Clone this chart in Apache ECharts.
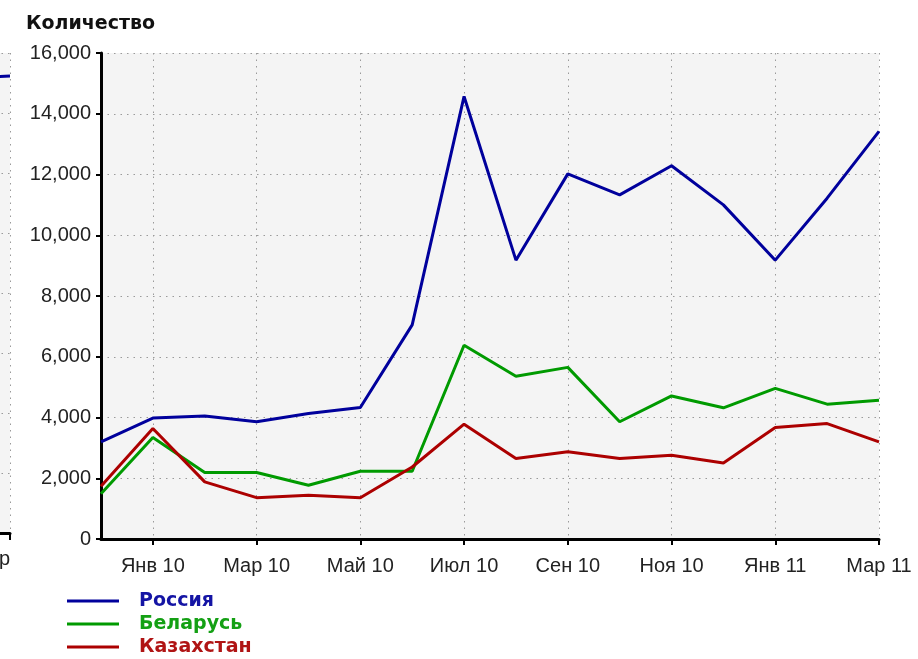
<!DOCTYPE html>
<html>
<head>
<meta charset="utf-8">
<script src="https://cdn.jsdelivr.net/npm/echarts@6/dist/echarts.min.js"></script>
<style>
  html, body { margin: 0; padding: 0; background: #fff; }
  #chart { width: 918px; height: 659px; }
</style>
</head>
<body>
<div id="chart"></div>
<script>
window.addEventListener("load", () => {
    // месяцы: Дек 09 .. Мар 11
    const months = ["Дек 09", "Янв 10", "Фев 10", "Мар 10", "Апр 10", "Май 10", "Июн 10", "Июл 10",
        "Авг 10", "Сен 10", "Окт 10", "Ноя 10", "Дек 10", "Янв 11", "Фев 11", "Мар 11"];
    const russia = [3200, 3980, 4050, 3860, 4130, 4330, 7050, 14570, 9180, 12020, 11330, 12290, 11000, 9180, 11220, 13420];
    const belarus = [1490, 3340, 2190, 2190, 1770, 2230, 2230, 6380, 5360, 5650, 3860, 4710, 4320, 4960, 4440, 4570];
    const kazakhstan = [1740, 3640, 1880, 1360, 1440, 1360, 2370, 3780, 2650, 2870, 2650, 2760, 2500, 3670, 3800, 3200];

    // обрезанный кусок соседнего графика слева
    const fragCats = ["Янв", "Фев", "Мар"];
    const fragValues = [14800, 14950, 15230];

    const yTicks = { min: 0, max: 16000, interval: 2000 };

    const blue = "#00009c", green = "#009a00", red = "#ac0000";
    const dotted = { color: "#9a9a9a", width: 1, type: [1.5, 5] };
    const labelFont = { fontFamily: "Liberation Sans", fontSize: 20, color: "#222" };
    const everyOther = (i) => i % 2 === 1;

    let option = {
        animation: false,
        backgroundColor: "#fff",
        title: {
            text: "Количество",
            left: 21,
            top: 10,
            textStyle: { fontFamily: "DejaVu Sans", fontWeight: "bold", fontSize: 19, color: "#111" }
        },
        legend: {
            orient: "vertical",
            left: 67,
            top: 591,
            padding: 0,
            itemWidth: 52,
            itemHeight: 3,
            itemGap: 3,
            icon: "rect",
            textStyle: { fontFamily: "DejaVu Sans", fontWeight: "bold", fontSize: 19, lineHeight: 20, padding: [0, 0, 0, 15] },
            data: [
                { name: "Россия", textStyle: { color: "#1414a4" } },
                { name: "Беларусь", textStyle: { color: "#14a014" } },
                { name: "Казахстан", textStyle: { color: "#b01414" } }
            ]
        },
        grid: [
            { left: 101, right: 39, top: 53, bottom: 120, show: true, backgroundColor: "#f4f4f4", borderWidth: 0,
              outerBoundsMode: "none" },
            { left: -330, width: 340, top: 53, bottom: 126, show: true, backgroundColor: "#f4f4f4", borderWidth: 0,
              outerBoundsMode: "none" }
        ],
        xAxis: [
            {
                type: "category",
                gridIndex: 0,
                data: months,
                boundaryGap: false,
                axisLine: { lineStyle: { color: "#000", width: 3 } },
                axisTick: { interval: everyOther, length: 6, lineStyle: { color: "#000", width: 2 } },
                axisLabel: Object.assign({ interval: everyOther, margin: 17 }, labelFont),
                splitLine: { show: true, interval: everyOther, lineStyle: dotted }
            },
            {
                type: "category",
                gridIndex: 1,
                data: fragCats,
                boundaryGap: false,
                axisLine: { lineStyle: { color: "#000", width: 3 } },
                axisTick: { interval: 0, length: 7, lineStyle: { color: "#000", width: 2 } },
                axisLabel: Object.assign({ interval: 0, margin: 16, align: "right",
                    formatter: (v, i) => i === fragCats.length - 1 ? v : "" }, labelFont),
                splitLine: { show: true, interval: 0, lineStyle: dotted }
            }
        ],
        yAxis: [
            {
                type: "value",
                gridIndex: 0,
                min: yTicks.min,
                max: yTicks.max,
                interval: yTicks.interval,
                axisLine: { show: true, lineStyle: { color: "#000", width: 3 } },
                axisTick: { show: true, length: 5, lineStyle: { color: "#000", width: 2 } },
                axisLabel: Object.assign({ margin: 10,
                    formatter: (v) => v.toString().replace(/\B(?=(\d{3})+(?!\d))/g, ",") }, labelFont),
                splitLine: { show: true, lineStyle: dotted }
            },
            {
                type: "value",
                gridIndex: 1,
                min: yTicks.min,
                max: yTicks.max,
                interval: yTicks.interval,
                axisLine: { show: false },
                axisTick: { show: false },
                axisLabel: { show: false },
                splitLine: { show: true, lineStyle: dotted }
            }
        ],
        series: [
            { name: "Россия", type: "line", data: russia, xAxisIndex: 0, yAxisIndex: 0,
              showSymbol: false, symbol: "none", lineStyle: { color: blue, width: 3 }, itemStyle: { color: blue } },
            { name: "Беларусь", type: "line", data: belarus, xAxisIndex: 0, yAxisIndex: 0,
              showSymbol: false, symbol: "none", lineStyle: { color: green, width: 3 }, itemStyle: { color: green } },
            { name: "Казахстан", type: "line", data: kazakhstan, xAxisIndex: 0, yAxisIndex: 0,
              showSymbol: false, symbol: "none", lineStyle: { color: red, width: 3 }, itemStyle: { color: red } },
            { name: "frag", type: "line", data: fragValues, xAxisIndex: 1, yAxisIndex: 1,
              showSymbol: false, symbol: "none", lineStyle: { color: blue, width: 3 }, itemStyle: { color: blue } }
        ]
    };

    echarts.init(document.getElementById("chart")).setOption(option);
});
</script>
</body>
</html>
